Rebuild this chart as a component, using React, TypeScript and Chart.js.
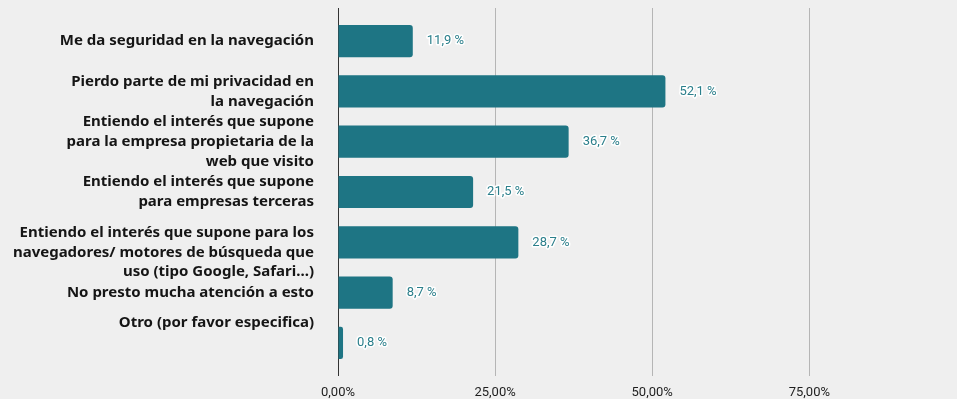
import React, { useEffect, useRef } from "react";
import { Chart, registerables } from "chart.js";

Chart.register(...registerables);

const categories: string[][] = [
  ["Me da seguridad en la navegación"],
  ["Pierdo parte de mi privacidad en", "la navegación"],
  ["Entiendo el interés que supone", "para la empresa propietaria de la", "web que visito"],
  ["Entiendo el interés que supone", "para empresas terceras"],
  ["", "Entiendo el interés que supone para los", "navegadores/ motores de búsqueda que", "uso (tipo Google, Safari...)"],
  ["No presto mucha atención a esto"],
  ["Otro (por favor especifica)", "", ""],
];

const values: number[] = [11.9, 52.1, 36.7, 21.5, 28.7, 8.7, 0.8];

const xTickValues: number[] = [0, 25, 50, 75];
const xMax = 98.5;

const BAR_COLOR = "#1e7584";
const LABEL_COLOR = "#2b7f8b";
const GRID_COLOR = "#b5b5b5";
const ZERO_COLOR = "#333333";

const fmtTick = (v: number) => v.toFixed(2).replace(".", ",") + "%";
const fmtVal = (v: number) => v.toFixed(1).replace(".", ",") + " %";

const alignPx = (p: number) => Math.round(p - 0.5) + 0.5;

const topGridPlugin = {
  id: "topGrid",
  beforeDatasetsDraw(chart: any) {
    const { ctx, chartArea, scales } = chart;
    const xs = scales.x;
    ctx.save();
    ctx.lineWidth = 1;
    xTickValues.forEach((v) => {
      const px = alignPx(xs.getPixelForValue(v));
      ctx.strokeStyle = v === 0 ? ZERO_COLOR : GRID_COLOR;
      ctx.beginPath();
      ctx.moveTo(px, chartArea.top - 8);
      ctx.lineTo(px, chartArea.top);
      ctx.stroke();
    });
    ctx.restore();
  },
};

const valueLabelPlugin = {
  id: "valueLabels",
  afterDatasetsDraw(chart: any) {
    const { ctx } = chart;
    const meta = chart.getDatasetMeta(0);
    ctx.save();
    ctx.font = "13px Roboto";
    ctx.textAlign = "left";
    ctx.textBaseline = "middle";
    ctx.lineJoin = "round";
    meta.data.forEach((el: any, i: number) => {
      const text = fmtVal(values[i]);
      const x = el.x + 14;
      const y = el.y;
      ctx.lineWidth = 3;
      ctx.strokeStyle = "#ffffff";
      ctx.strokeText(text, x, y);
      ctx.fillStyle = LABEL_COLOR;
      ctx.fillText(text, x, y);
    });
    ctx.restore();
  },
};

export default function App() {
  const ref = useRef<HTMLCanvasElement>(null);

  useEffect(() => {
    if (!ref.current) return;
    const chart = new Chart(ref.current, {
      type: "bar",
      data: {
        labels: categories,
        datasets: [
          {
            data: values,
            backgroundColor: BAR_COLOR,
            borderRadius: 3,
            borderSkipped: "start",
            barPercentage: 0.8,
            categoryPercentage: 0.8,
          },
        ],
      },
      options: {
        indexAxis: "y",
        animation: false,
        responsive: false,
        layout: { padding: { top: 16, right: 0, bottom: 0, left: 0 } },
        plugins: {
          legend: { display: false },
          tooltip: { enabled: false },
        },
        scales: {
          x: {
            min: 0,
            max: xMax,
            afterBuildTicks: (scale: any) => {
              scale.ticks = xTickValues.map((v) => ({ value: v }));
            },
            afterFit: (scale: any) => {
              scale.height = 31;
              scale.paddingLeft = 0;
              scale.paddingRight = 0;
              scale.paddingTop = 0;
              scale.paddingBottom = 0;
            },
            grid: {
              color: (c: any) => (c.tick && c.tick.value === 0 ? ZERO_COLOR : GRID_COLOR),
              lineWidth: 1,
              drawTicks: true,
              tickLength: 8,
            },
            border: { display: false },
            ticks: {
              padding: 9,
              color: "#1e1e1e",
              font: { family: "Roboto", size: 13 },
              callback: (v: any) => fmtTick(Number(v)),
              maxRotation: 0,
              autoSkip: false,
            },
          },
          y: {
            grid: { display: false },
            border: { display: false },
            afterFit: (scale: any) => {
              scale.width = 338;
              scale.paddingTop = 0;
              scale.paddingBottom = 0;
            },
            ticks: {
              padding: 16,
              autoSkip: false,
              color: "#151515",
              font: { family: "Noto Sans", size: 15, weight: "bold", lineHeight: 1.33 },
            },
          },
        },
      },
      plugins: [topGridPlugin, valueLabelPlugin],
    });
    return () => chart.destroy();
  }, []);

  return (
    <div style={{ position: "fixed", left: 0, top: 0, width: 957, height: 399, background: "#efefef" }}>
      <canvas ref={ref} width={957} height={399} />
    </div>
  );
}
